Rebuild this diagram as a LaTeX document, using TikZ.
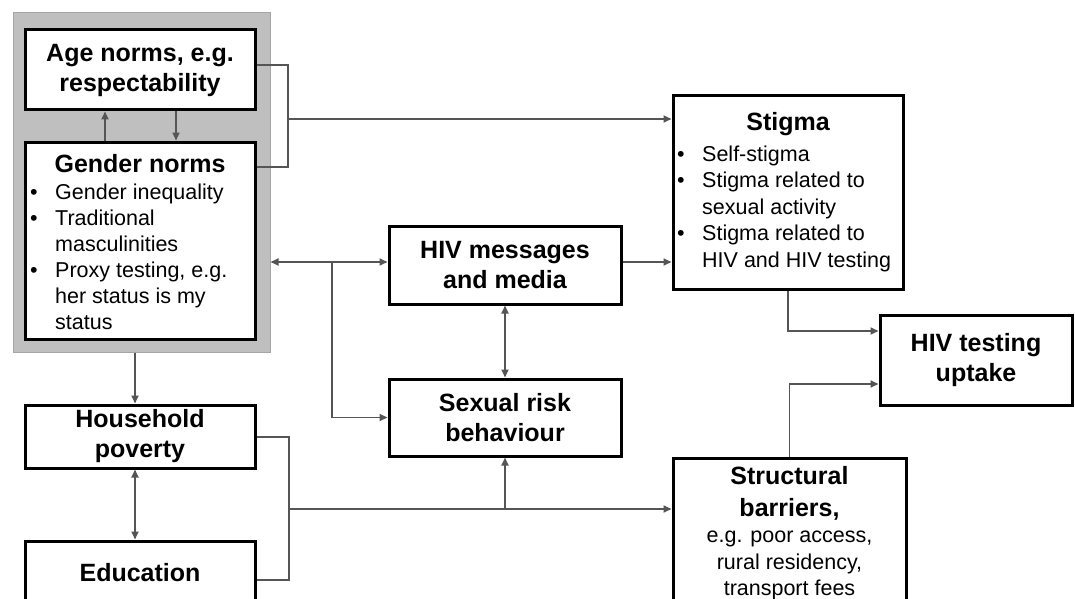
\documentclass[tikz,border=0pt]{standalone}
\usepackage{fontspec}
\setmainfont{Liberation Sans}
\usetikzlibrary{arrows.meta,calc}
\definecolor{conn}{RGB}{85,85,85}
\definecolor{grayfill}{RGB}{191,191,191}
\definecolor{grayedge}{RGB}{165,165,165}
\newcommand\ttlfont{\fontsize{25pt}{30pt}\selectfont\bfseries}
\newcommand\bdyfont{\fontsize{21.5pt}{26pt}\selectfont}
\newcommand\bul{\makebox[25pt][l]{\textbullet}}
\newcommand\nob{\hspace*{25pt}}
\tikzset{
  box/.style={draw=black, line width=3pt, fill=white, inner sep=0pt, align=center, font=\ttlfont},
  ttl/.style={anchor=base, inner sep=0pt, font=\ttlfont},
  ln/.style={anchor=base west, inner sep=0pt, font=\bdyfont},
  cln/.style={anchor=base, inner sep=0pt, font=\bdyfont},
  link/.style={draw=conn, line width=1.8pt},
  arr/.style={link, -{Triangle[length=8pt,width=7pt]}},
  darr/.style={link, {Triangle[length=8pt,width=7pt]}-{Triangle[length=8pt,width=7pt]}},
}
\begin{document}
\begin{tikzpicture}[x=1pt,y=-1pt]
\useasboundingbox (0,0) rectangle (1075,599);
\clip (0,0) rectangle (1075,599);
% grey group
\node[draw=grayedge, fill=grayfill, line width=1pt, minimum width=257pt, minimum height=339pt, inner sep=0pt] (grp) at (141.5,182.5) {};
\node[box, minimum width=230pt, minimum height=80pt] (age) at (140,70) {Age norms, e.g.\\respectability};
\node[box, minimum width=230pt, minimum height=197pt] (gender) at (140,240.5) {};
\node[ttl] (gt) at (140,172) {Gender norms};
\node[ln] (g1) at (30,199) {\bul Gender inequality};
\node[ln] (g2) at (30,225) {\bul Traditional};
\node[ln] (g3) at (30,251) {\nob masculinities};
\node[ln] (g4) at (30,277) {\bul Proxy testing, e.g.};
\node[ln] (g5) at (30,303) {\nob her status is my};
\node[ln] (g6) at (30,329) {\nob status};
% left column
\node[box, minimum width=230pt, minimum height=63pt] (hh) at (140,436.5) {Household\\poverty};
\node[box, minimum width=230pt, minimum height=64pt] (edu) at (140,573) {Education};
% middle
\node[box, minimum width=232pt, minimum height=78pt] (msg) at (505,265) {HIV messages\\and media};
\node[box, minimum width=232pt, minimum height=77pt] (risk) at (505,417.5) {Sexual risk\\behaviour};
% stigma
\node[box, minimum width=230pt, minimum height=193pt] (stigma) at (788,192.5) {};
\node[ttl] (st) at (788,130) {Stigma};
\node[ln] (s1) at (677,161) {\bul Self-stigma};
\node[ln] (s2) at (677,187) {\bul Stigma related to};
\node[ln] (s3) at (677,214) {\nob sexual activity};
\node[ln] (s4) at (677,240) {\bul Stigma related to};
\node[ln] (s5) at (677,267) {\nob HIV and HIV testing};
% testing
\node[box, minimum width=192pt, minimum height=90pt] (test) at (976,360) {HIV testing\\uptake};
% structural
\node[box, minimum width=233pt, minimum height=162pt] (struct) at (789.5,539) {};
\node[ttl] (sb1) at (789.5,484) {Structural};
\node[ttl] (sb2) at (789.5,516) {barriers,};
\node[cln] (sb3) at (789.5,542) {e.g. poor access,};
\node[cln] (sb4) at (789.5,569) {rural residency,};
\node[cln] (sb5) at (789.5,595) {transport fees};
% connectors
\draw[arr] ([xshift=-35pt]gender.north) -- ([xshift=-35pt]age.south);
\draw[arr] ([xshift=36pt]age.south) -- ([xshift=36pt]gender.north);
\coordinate (bt) at (288,65);
\coordinate (bb) at (288,167);
\coordinate (bm) at (288,119);
\draw[link] (age.east |- bt) -- (bt) -- (bb) -- (gender.east |- bb);
\draw[arr] (bm) -- (stigma.west |- bm);
\coordinate (j1) at (332,262);
\draw[darr] (grp.east |- j1) -- (msg.west |- j1);
\draw[arr] (j1) |- (risk.west);
\draw[arr] (msg.east |- j1) -- (stigma.west |- j1);
\draw[darr] (msg.south) -- (risk.north);
\draw[arr] (stigma.south) |- ([yshift=29pt]test.west);
\draw[arr] (struct.north) |- ([yshift=-24pt]test.west);
\coordinate (vx) at (135,0);
\draw[arr] (grp.south -| vx) -- (hh.north -| vx);
\draw[darr] (hh.south -| vx) -- (edu.north -| vx);
\coordinate (ct) at (289,437);
\coordinate (cb) at (289,580);
\coordinate (cm) at (289,509);
\draw[link] (hh.east |- ct) -- (ct) -- (cb) -- (edu.east |- cb);
\draw[arr] (cm) -- (struct.west |- cm);
\draw[arr] (risk.south |- cm) -- (risk.south);
\end{tikzpicture}
\end{document}
